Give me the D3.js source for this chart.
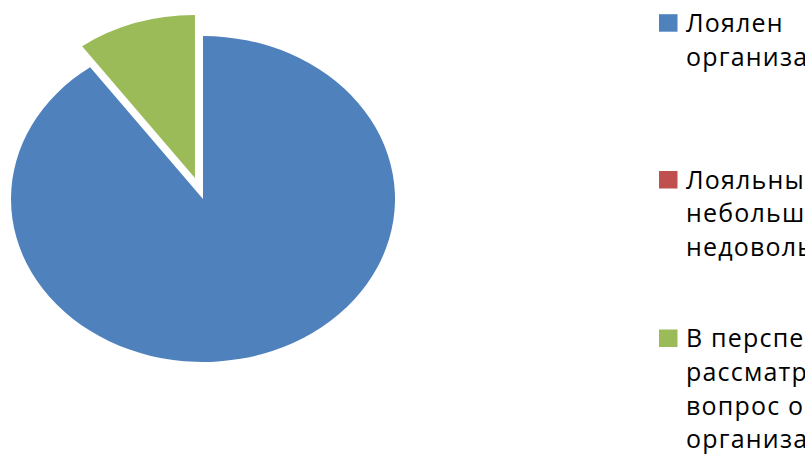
<!DOCTYPE html>
<html><head><meta charset="utf-8">
<script src="https://cdn.jsdelivr.net/npm/d3@7"></script>
<style>html,body{margin:0;padding:0;background:#fff;overflow:hidden}</style>
</head><body>
<svg id="c" width="805" height="455"></svg>
<script>
const categories = ["Лоялен к организации", "Лояльны, но есть небольшие недовольства", "В перспективе рассматривают вопрос о уходе из организации"];
const values = [90, 0, 10];
const colors = ["#4F81BD", "#C0504D", "#9BBB59"];
const legendLines = [
  ["Лоялен", "организации"],
  ["Лояльны, но есть", "небольшие", "недовольства"],
  ["В перспективе", "рассматривают", "вопрос о уходе из", "организации"]
];
const explode = [0, 0, 26];

const svg = d3.select("#c");
const cx = 203, cy = 199, rx = 192, ry = 163;
const pie = d3.pie().sort(null).value(d => d)(values);
const arc = d3.arc().innerRadius(0).outerRadius(rx);
const g = svg.append("g").attr("transform", `translate(${cx},${cy}) scale(1,${ry/rx})`);
g.selectAll("path").data(pie).enter().append("path")
  .attr("d", arc)
  .attr("fill", (d,i) => colors[i])
  .attr("transform", (d,i) => {
    const a = (d.startAngle + d.endAngle) / 2;
    return `translate(${Math.sin(a)*explode[i]},${-Math.cos(a)*explode[i]})`;
  });

const legBase = [31.7, 188.5, 347];
const lineH = 33.8;
const leg = svg.append("g");
categories.forEach((c, i) => {
  leg.append("rect").attr("x", 659).attr("y", legBase[i] - 17.5).attr("width", 18.5).attr("height", 17.5).attr("fill", colors[i]);
  legendLines[i].forEach((t, j) => {
    leg.append("text").attr("x", 686).attr("y", legBase[i] + j * lineH)
      .attr("font-family", "Open Sans, sans-serif")
      .attr("font-weight", 500)
      .attr("letter-spacing", 1.2)
      .attr("font-size", 25).attr("fill", "#000").text(t);
  });
});
</script>
</body></html>
